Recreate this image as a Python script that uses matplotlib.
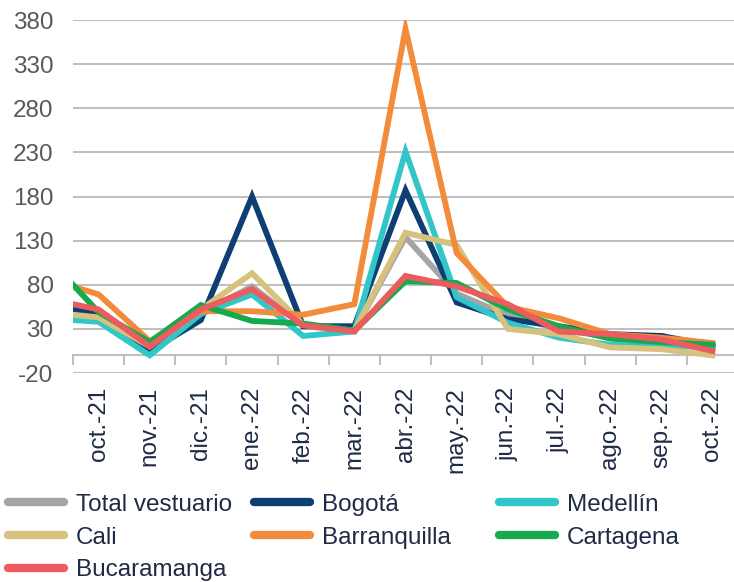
import matplotlib.pyplot as plt
import numpy as np

plt.rcParams['font.family'] = ['Liberation Sans', 'DejaVu Sans']
plt.rcParams['axes.unicode_minus'] = False

# first entry (sep.-21) sits outside the visible range, only its segment shows
months = ['sep.-21', 'oct.-21', 'nov.-21', 'dic.-21', 'ene.-22', 'feb.-22', 'mar.-22',
          'abr.-22', 'may.-22', 'jun.-22', 'jul.-22', 'ago.-22', 'sep.-22', 'oct.-22']

total = [55, 45, 8, 48, 78, 33, 28, 134, 70, 45, 30, 20, 22, 12]
bogota = [57, 47, 5, 40, 180, 33, 33, 187, 60, 41, 33, 24, 22, 10]
medellin = [42, 38, 0, 47, 69, 22, 27, 231, 66, 37, 20, 12, 10, 10]
cali = [49, 43, 10, 52, 93, 35, 28, 139, 125, 30, 24, 9, 7, 0]
barranquilla = [87, 69, 16, 50, 50, 46, 58, 370, 116, 55, 42, 24, 20, 14]
cartagena = [111, 49, 15, 57, 39, 36, 28, 84, 82, 52, 33, 19, 15, 12]
bucaramanga = [64, 52, 10, 52, 75, 34, 27, 90, 78, 58, 27, 24, 18, 5]

series = [
    ('Total vestuario', total, '#A5A5A5'),
    ('Bogotá', bogota, '#0E3F73'),
    ('Medellín', medellin, '#33C6C8'),
    ('Cali', cali, '#D6C27E'),
    ('Barranquilla', barranquilla, '#F28B3A'),
    ('Cartagena', cartagena, '#17A94E'),
    ('Bucaramanga', bucaramanga, '#EC5C5E'),
]

x = np.arange(len(months)) - 1
grid_c = '#C0C0C0'
text_c = '#1F2A44'
fs = 17.5

fig = plt.figure(figsize=(7.34, 5.82), dpi=100)
ax = fig.add_axes([73 / 734, 1 - 373 / 582, 665 / 734, 353 / 582])

lines = {}
for name, vals, col in series:
    ln, = ax.plot(x, vals, color=col, lw=4.2, solid_joinstyle='miter', label=name)
    lines[name] = ln

ax.set_xlim(-0.5, 12.5)
ax.set_ylim(-20, 380)
ax.set_yticks(np.arange(-20, 381, 50))
ax.grid(axis='y', color=grid_c, lw=1.5)
ax.set_axisbelow(True)
for s in ax.spines.values():
    s.set_visible(False)

ax.set_xticks(x[1:])
ax.set_xticklabels(months[1:], rotation=90, color=text_c)
ax.tick_params(axis='x', length=0, pad=10, labelsize=fs)
ax.tick_params(axis='y', length=0, pad=14, labelsize=fs, labelcolor='#595959')

# category axis crossing at zero
sec = ax.secondary_xaxis(20 / 400)
sec.set_xticks(np.arange(-0.5, 13, 1))
sec.tick_params(length=7, color=grid_c, width=1.5, labelbottom=False)
sec.spines['bottom'].set_color(grid_c)
sec.spines['bottom'].set_linewidth(1.5)

# legend in three columns, laid out like the original
columns = [(['Total vestuario', 'Cali', 'Bucaramanga'], 8),
           (['Bogotá', 'Barranquilla'], 254),
           (['Medellín', 'Cartagena'], 499)]
for names, xpx in columns:
    leg = fig.legend([lines[n] for n in names], names, loc='upper left',
                     bbox_to_anchor=(xpx / 734, 0.152), frameon=False, fontsize=fs,
                     handlelength=2.3, handletextpad=0.5, labelspacing=0.45,
                     borderpad=0, borderaxespad=0)
    for t in leg.get_texts():
        t.set_color(text_c)
    for h in leg.legend_handles:
        h.set_linewidth(6)
        h.set_solid_capstyle('round')

fig.savefig('out.png', dpi=100)
